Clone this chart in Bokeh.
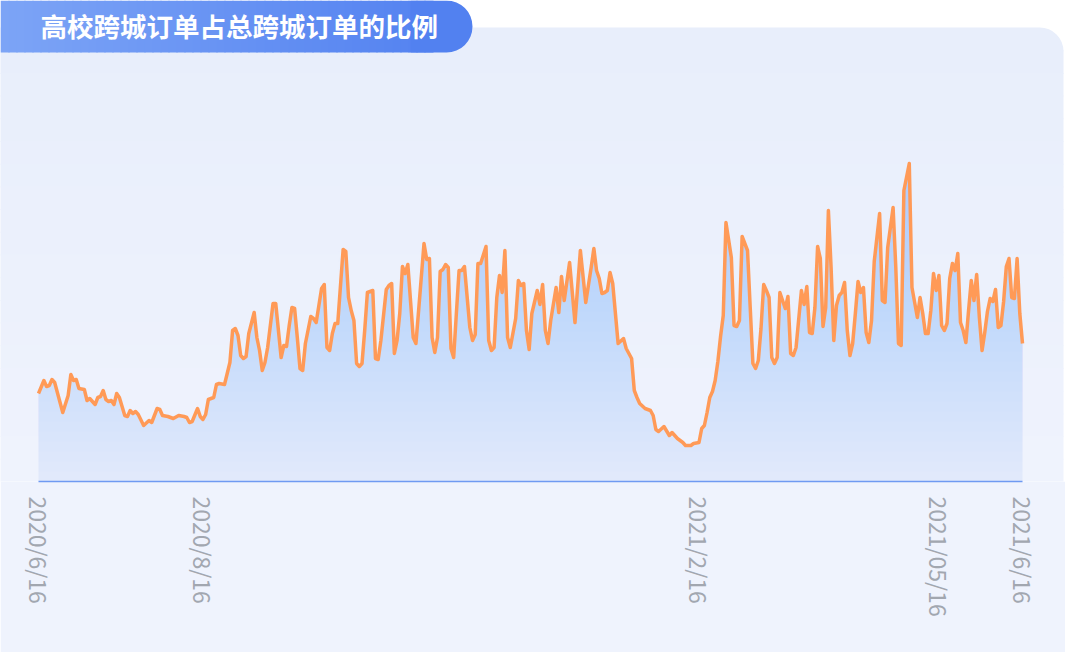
import math
import numpy as np
from bokeh.plotting import figure
from bokeh.models import Range1d, FixedTicker, BoxAnnotation, Label
from bokeh.embed import file_html
from bokeh.resources import INLINE

# ---------------- data ----------------
title_text = "高校跨城订单占总跨城订单的比例"

tick_days = [0, 61, 245, 334, 365]
tick_labels = ["2020/6/16", "2020/8/16", "2021/2/16", "2021/05/16", "2021/6/16"]

# days since 2020/6/16 (vertices of the daily series)
day_offsets = [
    0, 2, 3, 4, 5, 6, 9, 11, 12, 13, 14, 15, 17, 18, 19, 21, 22, 23, 24, 25,
    26, 27, 28, 29, 30, 32, 33, 34, 35, 36, 37, 39, 41, 42, 44, 45, 46, 48, 49, 50,
    52, 54, 55, 56, 57, 59, 60, 61, 62, 63, 65, 66, 67, 69, 70, 71, 72, 73, 74, 75,
    76, 77, 78, 80, 81, 82, 83, 84, 85, 87, 88, 90, 91, 92, 93, 94, 95, 96, 97, 98,
    99, 101, 102, 103, 105, 106, 107, 108, 109, 110, 111, 113, 114, 115, 116, 117, 118, 119, 120, 121,
    122, 124, 125, 126, 127, 129, 130, 131, 132, 133, 134, 135, 136, 137, 139, 140, 141, 143, 144, 145,
    146, 147, 148, 149, 150, 151, 152, 153, 154, 155, 156, 157, 158, 160, 161, 162, 163, 164, 166, 167,
    168, 169, 170, 171, 172, 173, 174, 175, 177, 178, 179, 180, 181, 182, 183, 185, 186, 187, 188, 189,
    190, 192, 193, 194, 195, 197, 199, 201, 203, 205, 206, 207, 208, 209, 210, 211, 212, 213, 215, 217,
    218, 220, 221, 222, 223, 225, 227, 228, 229, 230, 232, 234, 235, 237, 239, 240, 242, 243, 245, 246,
    247, 248, 249, 250, 251, 252, 253, 254, 255, 257, 258, 259, 260, 261, 263, 264, 265, 266, 267, 268,
    269, 270, 271, 272, 273, 274, 275, 277, 278, 279, 280, 281, 283, 284, 285, 286, 287, 288, 289, 290,
    291, 292, 293, 294, 295, 296, 297, 298, 299, 300, 301, 302, 303, 304, 305, 306, 307, 308, 309, 310,
    312, 313, 314, 315, 317, 318, 319, 320, 321, 323, 324, 325, 326, 327, 328, 329, 330, 331, 332, 333,
    334, 335, 336, 337, 338, 339, 340, 341, 342, 343, 344, 345, 346, 347, 348, 349, 350, 351, 352, 353,
    354, 355, 356, 357, 358, 359, 360, 361, 362, 363, 364, 365,
]

# share of cross-city orders from universities (%)
ratio_values = [
    8.8, 10.1, 9.5, 9.6, 10.2, 9.9, 6.9, 8.6, 10.7, 10.1, 10.2, 9.3, 9.2, 8.1, 8.3, 7.7, 8.4, 8.5, 9.1, 8.2,
    8.0, 8.1, 7.7, 8.8, 8.4, 6.6, 6.5, 7.1, 6.8, 7.0, 6.7, 5.6, 6.1, 5.9, 7.3, 7.2, 6.6, 6.5, 6.4, 6.3,
    6.6, 6.5, 6.4, 5.9, 6.0, 7.3, 6.5, 6.2, 6.7, 8.2, 8.4, 9.7, 9.8, 9.7, 10.8, 11.9, 15.1, 15.3, 14.6, 12.6,
    12.3, 12.5, 14.8, 16.9, 14.4, 13.1, 11.1, 11.9, 13.4, 17.8, 17.8, 12.4, 13.6, 13.5, 15.6, 17.4, 17.3, 14.4, 11.3, 11.1,
    13.8, 16.5, 16.3, 15.9, 19.3, 19.7, 13.4, 13.1, 14.8, 15.8, 15.8, 23.2, 23.0, 18.4, 17.1, 16.1, 11.8, 11.5, 11.8, 15.1,
    18.9, 19.1, 12.3, 12.2, 14.1, 19.2, 19.6, 19.8, 12.8, 14.1, 16.8, 21.5, 20.8, 21.7, 14.4, 13.8, 17.1, 23.8, 22.2, 22.3,
    14.4, 12.9, 14.4, 21.0, 21.2, 21.7, 21.4, 13.3, 12.4, 16.8, 21.1, 21.1, 21.5, 15.4, 14.1, 14.7, 21.8, 21.8, 23.5, 14.1,
    13.1, 13.4, 18.4, 20.6, 18.9, 23.1, 14.4, 13.4, 16.3, 20.1, 19.6, 19.8, 15.1, 13.2, 16.8, 19.1, 17.7, 19.7, 15.1, 13.8,
    16.1, 19.4, 16.9, 20.5, 18.1, 21.9, 15.9, 23.1, 17.9, 21.4, 23.3, 21.1, 20.3, 18.8, 18.9, 19.1, 20.9, 19.8, 13.8, 14.3,
    13.3, 12.3, 9.1, 8.4, 7.8, 7.3, 7.1, 6.6, 5.2, 5.0, 5.5, 4.6, 4.9, 4.3, 3.9, 3.6, 3.6, 3.8, 3.9, 5.3,
    5.6, 6.9, 8.4, 9.0, 10.1, 12.0, 14.5, 16.6, 25.9, 22.4, 15.6, 15.5, 16.1, 24.5, 23.1, 17.4, 11.8, 11.3, 12.1, 15.3,
    19.7, 19.1, 18.4, 12.4, 11.8, 12.4, 18.9, 17.3, 18.5, 12.8, 12.6, 13.4, 19.1, 17.7, 19.5, 14.9, 14.8, 17.4, 23.5, 22.3,
    15.5, 17.4, 27.1, 21.4, 14.1, 17.6, 18.6, 18.9, 19.9, 15.1, 12.6, 13.8, 16.8, 20.0, 18.9, 19.4, 14.9, 13.9, 16.1, 22.0,
    26.8, 18.1, 17.9, 23.4, 27.4, 21.4, 13.8, 13.6, 29.1, 31.8, 19.4, 17.9, 16.4, 18.4, 16.8, 14.8, 14.8, 17.1, 20.8, 19.1,
    20.6, 15.6, 15.1, 15.8, 20.3, 21.8, 21.1, 22.8, 15.9, 15.1, 13.9, 17.1, 20.1, 18.1, 20.7, 16.4, 13.1, 14.9, 17.0, 18.3,
    18.0, 19.2, 15.4, 15.6, 18.0, 21.5, 22.3, 18.4, 18.3, 22.3, 16.8, 13.8,
]

# ---------------- layout helpers (figure pixels -> data units) ----------------
W, H = 1065, 652
X0 = 38                    # pixel of the first day
PX_PER_DAY = 984 / 365
BASE = 481                 # pixel of the axis line
PX_PER_UNIT = 10


def xd(px):
    return (px - X0) / PX_PER_DAY


def yd(py):
    return (BASE - py) / PX_PER_UNIT


def mix(c1, c2, t):
    return "#%02x%02x%02x" % tuple(int(round(a + (b - a) * t)) for a, b in zip(c1, c2))


p = figure(
    width=W, height=H, output_backend="svg", toolbar_location=None,
    x_range=Range1d(xd(0), xd(W)), y_range=Range1d(0, yd(0)),
    y_axis_location=None,
    min_border_left=0, min_border_right=0, min_border_top=0, min_border_bottom=H - BASE,
)
p.background_fill_color = "white"
p.border_fill_color = "#EFF3FD"
p.outline_line_color = None
p.xgrid.visible = False
p.ygrid.visible = False

# background panel (vertical gradient in bands)
top_c, bot_c = (232, 238, 251), (239, 243, 253)
n_bands = 20
band_h = (BASE - 27) / n_bands
for i in range(n_bands):
    t_px = 27 + i * band_h
    b_px = t_px + band_h + 1
    p.add_layout(BoxAnnotation(
        left=xd(-10), right=xd(1063), top=yd(t_px), bottom=yd(b_px if i < n_bands - 1 else BASE + 5),
        fill_color=mix(top_c, bot_c, i / (n_bands - 1)), fill_alpha=1, line_color=None,
        border_radius=(0, 24, 0, 0) if i == 0 else 0, level="underlay",
    ))

# title badge (horizontal gradient in strips)
left_c, right_c = (124, 164, 246), (80, 127, 240)
strip_w = 8
n_strips = 54
for i in range(n_strips):
    l_px = i * strip_w
    p.add_layout(BoxAnnotation(
        left=xd(l_px), right=xd(l_px + strip_w + 1), top=yd(0), bottom=yd(52),
        fill_color=mix(left_c, right_c, l_px / 472), fill_alpha=1, line_color=None, level="overlay",
    ))
p.add_layout(BoxAnnotation(
    left=xd(410), right=xd(472), top=yd(0), bottom=yd(52),
    fill_color=mix(left_c, right_c, 0.95), fill_alpha=1, line_color=None,
    border_radius=(0, 26, 26, 0), level="overlay",
))
p.add_layout(Label(
    x=xd(40), y=yd(25), text=title_text, text_color="white",
    text_font="Noto Sans CJK SC", text_font_style="bold", text_font_size="26.5px",
    text_baseline="middle", level="overlay",
))

# area fill with vertical gradient (stacked translucent layers)
vals = np.array(ratio_values, dtype=float)
p.varea(x=day_offsets, y1=0, y2=vals, fill_color="#E3EAFB", fill_alpha=1)
for L in np.arange(0, 32, 1.0):
    p.varea(x=day_offsets, y1=L, y2=np.maximum(vals, L), fill_color="#9DB9F2", fill_alpha=0.017)

p.line(day_offsets, ratio_values, line_color="#FF9A57", line_width=3.5, line_join="round")

ax = p.xaxis[0]
ax.ticker = FixedTicker(ticks=tick_days)
ax.major_label_overrides = {d: l for d, l in zip(tick_days, tick_labels)}
ax.major_label_orientation = -math.pi / 2
ax.bounds = (tick_days[0], tick_days[-1])
ax.axis_line_color = "#6F9AF2"
ax.axis_line_width = 1.3
ax.major_tick_line_color = None
ax.minor_tick_line_color = None
ax.major_label_text_color = "#A2A7B0"
ax.major_label_text_font = "Noto Sans CJK SC"
ax.major_label_text_font_size = "23px"
ax.major_label_standoff = 9

open("out.html", "w").write(file_html(p, INLINE))
